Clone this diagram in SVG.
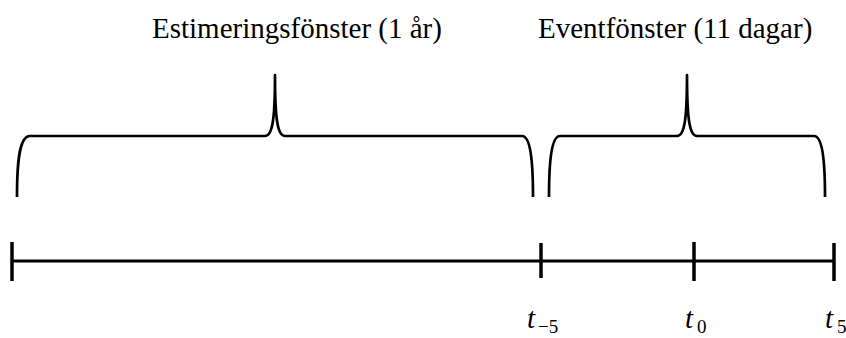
<svg xmlns="http://www.w3.org/2000/svg" width="846" height="338" viewBox="0 0 846 338">
<style>
.brace{fill:none;stroke:#000;stroke-width:2.7;stroke-linejoin:round}
.axis{stroke:#000;stroke-width:3;fill:none}
.tick{stroke:#000;stroke-width:3.5}
.lbl{font-family:"Liberation Serif","Times New Roman",serif;font-size:29px;fill:#000}
.t{font-family:"Liberation Serif","Times New Roman",serif;font-style:italic;font-size:29px;fill:#000}
.sub{font-family:"Liberation Serif","Times New Roman",serif;font-size:19px;fill:#000}
</style>
<rect width="846" height="338" fill="#fff"/>
<g id="estimeringsfonster">
<path class="brace" d="M17,197 C17,158 20,136 30,136 L265,136 C272,136 275,122 275,75 C275,122 278,136 285,136 L522,136 C530,136 533,158 533,197"/>
<text class="lbl" x="152" y="38">Estimeringsfönster (1 år)</text>
</g>
<g id="eventfonster">
<path class="brace" d="M549,197 C549,158 552,136 560,136 L677,136 C684,136 687,122 687,75 C687,122 690,136 697,136 L814,136 C822,136 825,158 825,197"/>
<text class="lbl" x="538" y="38">Eventfönster (11 dagar)</text>
</g>
<g id="axis">
<line class="axis" x1="12" y1="261" x2="834" y2="261"/>
<line class="tick" x1="12" y1="242" x2="12" y2="281"/>
<line class="tick" x1="541" y1="243" x2="541" y2="278"/>
<line class="tick" x1="694" y1="242" x2="694" y2="281"/>
<line class="tick" x1="834" y1="243" x2="834" y2="281"/>
</g>
<g id="labels">
<text class="t" x="527" y="328">t</text><text class="sub" x="538" y="333">−5</text>
<text class="t" x="685" y="328">t</text><text class="sub" x="697" y="333">0</text>
<text class="t" x="825" y="328">t</text><text class="sub" x="837" y="333">5</text>
</g>
</svg>
